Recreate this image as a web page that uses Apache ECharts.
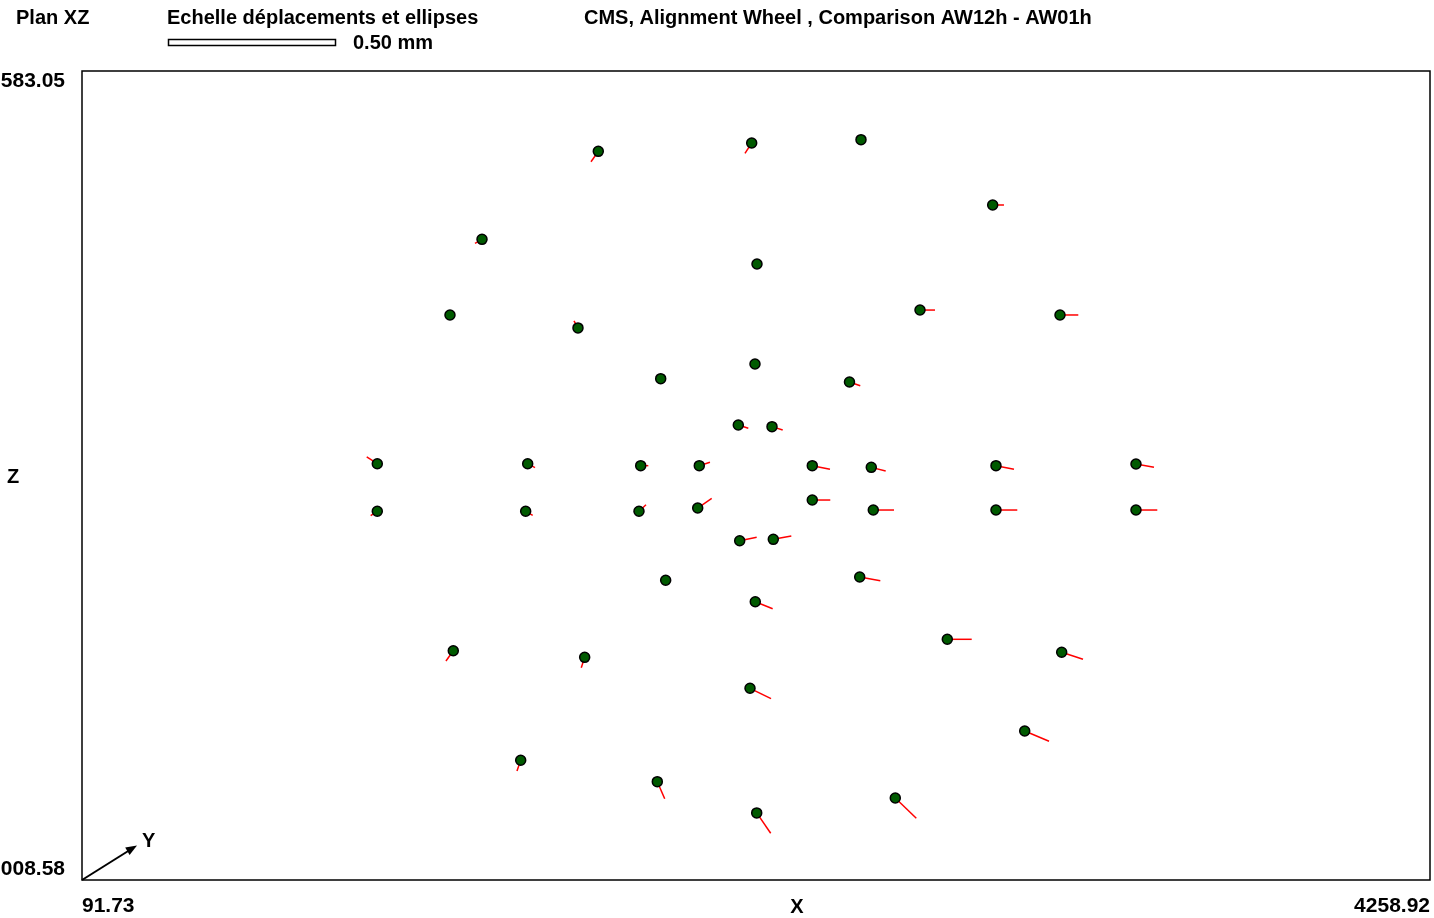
<!DOCTYPE html>
<html>
<head>
<meta charset="utf-8">
<script src="https://cdn.jsdelivr.net/npm/echarts@6/dist/echarts.min.js"></script>
<style>
html,body{margin:0;padding:0;background:#fff;}
#chart{width:1434px;height:918px;}
</style>
</head>
<body>
<div id="chart"></div>
<script>
// ---- Data ----
// Axis range
const xRange = [91.73, 4258.92];
const zRange = [1008.58, 1583.05];
// Tick labels exactly as printed in the reference
const xTickLabels = ['91.73', '4258.92'];
const zTickLabels = ['008.58', '583.05'];

// Point positions (X, Z)
const pointX = [
  1687.8, 2162.0, 2499.9, 2907.0, 1328.3, 2178.4, 1229.3, 2682.3, 3115.1, 1625.0,
  1880.7, 2172.2, 2464.3, 2120.6, 2224.8, 1004.6, 1469.5, 1818.9, 2000.0, 2349.3,
  2531.7, 2917.2, 3350.0, 1004.6, 1463.3, 1813.6, 1995.1, 2349.3, 2537.9, 2917.2,
  3350.0, 2124.9, 2228.8, 1896.1, 2495.9, 2173.1, 2766.7, 1239.5, 3120.3, 1645.7,
  2156.8, 3006.0, 1447.9, 1870.2, 2605.9, 2177.5
];
const pointZ = [
  1526.0, 1531.9, 1534.3, 1487.9, 1463.5, 1446.0, 1409.8, 1413.3, 1409.8, 1400.6,
  1364.6, 1375.0, 1362.2, 1331.7, 1330.5, 1304.2, 1304.2, 1302.8, 1302.8, 1302.8,
  1301.6, 1302.8, 1304.0, 1270.4, 1270.4, 1270.4, 1272.7, 1278.4, 1271.3, 1271.3,
  1271.3, 1249.5, 1250.5, 1221.4, 1223.7, 1206.2, 1179.5, 1171.4, 1170.3, 1166.7,
  1144.7, 1114.4, 1093.6, 1078.4, 1066.8, 1056.2
];
// Displacements (mm) in X and Z
const dispX = [
  -0.0219, -0.0201, -0.0060, 0.0338, -0.0210, 0.0090, 0.0000, 0.0449, 0.0548, -0.0120,
  0.0070, 0.0090, 0.0323, 0.0299, 0.0320, -0.0317, 0.0219, 0.0228, 0.0320, 0.0530,
  0.0431, 0.0539, 0.0539, -0.0198, 0.0210, 0.0210, 0.0419, 0.0539, 0.0620, 0.0638,
  0.0638, 0.0509, 0.0539, 0.0000, 0.0617, 0.0521, 0.0731, -0.0219, 0.0638, -0.0102,
  0.0629, 0.0728, -0.0111, 0.0222, 0.0629, 0.0419
];
const dispZ = [
  -0.0311, -0.0308, -0.0080, 0.0000, -0.0120, 0.0100, 0.0000, 0.0000, 0.0000, 0.0210,
  -0.0110, -0.0110, -0.0111, -0.0099, -0.0099, 0.0201, -0.0120, 0.0000, 0.0102, -0.0108,
  -0.0111, -0.0108, -0.0099, -0.0132, -0.0120, 0.0198, 0.0290, 0.0000, 0.0000, 0.0000,
  0.0000, 0.0102, 0.0099, 0.0000, -0.0111, -0.0210, 0.0000, -0.0308, -0.0210, -0.0311,
  -0.0311, -0.0308, -0.0320, -0.0509, -0.0608, -0.0608
];
// Scale bar of the reference: 0.50 mm
const scaleBarMm = 0.5;

// ---- Styles ----
const scaleBarPx = 167;              // length of the scale bar in pixels
const pxPerMm = scaleBarPx / scaleBarMm;
const FONT = '"Liberation Sans", Arial, sans-serif';
const FS = 20;
const FSN = 21;

const pts = pointX.map((x, i) => [x, pointZ[i]]);
const vecs = pointX.map((x, i) => [x, pointZ[i], dispX[i], dispZ[i]]);

const G = {left: 82, top: 71, right: 4, bottom: 38};

const chart = echarts.init(document.getElementById('chart'), null, {renderer: 'canvas'});
const txt = (x, y, s, extra) => ({
  type: 'text', x: x, y: y, silent: true,
  style: Object.assign({text: s, font: 'bold ' + FS + 'px ' + FONT, fill: '#000', verticalAlign: 'middle'}, extra || {})
});

chart.setOption({
  animation: false,
  backgroundColor: '#fff',
  grid: {left: G.left, top: G.top, right: G.right, bottom: G.bottom, show: true,
         containLabel: false, outerBoundsMode: 'none',
         borderColor: '#000', borderWidth: 1.5, backgroundColor: 'transparent'},
  xAxis: {
    type: 'value', min: xRange[0], max: xRange[1],
    axisLine: {show: false}, axisTick: {show: false}, splitLine: {show: false},
    axisLabel: {
      customValues: xRange,
      formatter: (v) => (Math.abs(v - xRange[0]) < 1e-6 ? xTickLabels[0] : xTickLabels[1]),
      alignMinLabel: 'left', alignMaxLabel: 'right',
      margin: 16, color: '#000', fontFamily: FONT, fontWeight: 'bold', fontSize: FSN
    }
  },
  yAxis: {
    type: 'value', min: zRange[0], max: zRange[1],
    axisLine: {show: false}, axisTick: {show: false}, splitLine: {show: false},
    axisLabel: {
      customValues: zRange,
      formatter: (v) => (Math.abs(v - zRange[0]) < 1e-6 ? zTickLabels[0] : zTickLabels[1]),
      verticalAlignMinLabel: 'bottom', verticalAlignMaxLabel: 'top',
      margin: 17, color: '#000', fontFamily: FONT, fontWeight: 'bold', fontSize: FSN
    }
  },
  graphic: [
    txt(16, 18, 'Plan XZ'),
    txt(167, 18, 'Echelle déplacements et ellipses'),
    txt(584, 18, 'CMS, Alignment Wheel , Comparison AW12h - AW01h'),
    {type: 'rect', silent: true, shape: {x: 168.5, y: 39.5, width: scaleBarPx, height: 6},
     style: {fill: '#fff', stroke: '#000', lineWidth: 1.5}},
    txt(353, 43, scaleBarMm.toFixed(2) + ' mm'),
    txt(7, 477, 'Z'),
    txt(797, 907, 'X', {align: 'center'}),
    // Y direction arrow
    {type: 'line', silent: true, shape: {x1: 82, y1: 880, x2: 133, y2: 848},
     style: {stroke: '#000', lineWidth: 2}},
    {type: 'polygon', silent: true, shape: {points: [[137, 845.5], [129.6, 855], [125.2, 847.6]]},
     style: {fill: '#000'}},
    txt(142, 841, 'Y')
  ],
  series: [
    {
      type: 'custom',
      coordinateSystem: 'cartesian2d',
      data: vecs,
      encode: {x: 0, y: 1},
      z: 2,
      silent: true,
      renderItem: function (params, api) {
        const p = api.coord([api.value(0), api.value(1)]);
        const ex = p[0] + api.value(2) * pxPerMm;
        const ey = p[1] - api.value(3) * pxPerMm;
        return {
          type: 'line',
          shape: {x1: p[0], y1: p[1], x2: ex, y2: ey},
          style: {stroke: '#ff0000', lineWidth: 1.5}
        };
      }
    },
    {
      type: 'scatter',
      data: pts,
      z: 3,
      symbol: 'circle',
      symbolSize: 10,
      silent: true,
      itemStyle: {color: '#005a00', borderColor: '#000', borderWidth: 1.5, opacity: 1}
    }
  ]
});
</script>
</body>
</html>
